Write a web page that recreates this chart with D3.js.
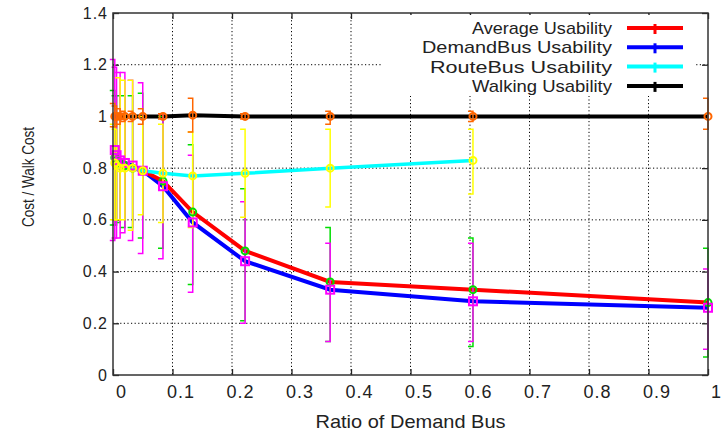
<!DOCTYPE html>
<html>
<head>
<meta charset="utf-8">
<script src="https://cdn.jsdelivr.net/npm/d3@7"></script>
<style>
body { margin: 0; background: #fff; }
text { font-family: "Liberation Sans", Arial, sans-serif; fill: #222; }
</style>
</head>
<body>
<script>
// ratio of demand bus (x positions of the measured points)
var ratios = [0.003, 0.006, 0.012, 0.02, 0.033, 0.05, 0.084, 0.134, 0.222, 0.365, 0.605, 1.0];

// mean values
var avgUsability    = [0.84, 0.83, 0.82, 0.81, 0.80, 0.79, 0.75, 0.63, 0.48, 0.36, 0.33, 0.28];
var demandUsability = [0.87, 0.85, 0.83, 0.82, 0.81, 0.79, 0.73, 0.59, 0.44, 0.33, 0.285, 0.26];
var routeUsability  = [0.82, 0.81, 0.80, 0.80, 0.80, 0.79, 0.78, 0.77, 0.78, 0.80, 0.83, null];
var walkUsability   = [1.0, 1.0, 1.0, 1.0, 1.0, 1.0, 1.0, 1.005, 1.0, 1.0, 1.0, 1.0];

// error bars (low / high)
var avgLow     = [0.58, 0.58, 0.59, 0.57, 0.57, 0.53, 0.49, 0.35, 0.21, 0.13, 0.11, 0.07];
var avgHigh    = [1.10, 1.08, 1.08, 1.08, 1.08, 1.09, 1.00, 0.89, 0.72, 0.57, 0.53, 0.49];
var demandLow  = [0.52, 0.53, 0.53, 0.55, 0.52, 0.47, 0.45, 0.32, 0.20, 0.13, 0.13, 0.10];
var demandHigh = [1.22, 1.19, 1.17, 1.17, 1.14, 1.13, 1.01, 0.85, 0.67, 0.51, 0.51, 0.41];
var routeLow   = [0.60, 0.60, 0.60, 0.60, 0.56, 0.62, 0.59, 0.57, 0.61, 0.65, 0.70, null];
var routeHigh  = [0.97, 0.95, 1.15, 1.14, 1.14, 1.00, 0.97, 0.94, 0.95, 0.95, 0.95, null];
var walkLow    = [0.96, 0.96, 0.97, 0.98, 0.98, 0.97, 0.99, 0.94, 0.99, 0.97, 0.98, 0.95];
var walkHigh   = [1.05, 1.04, 1.03, 1.02, 1.02, 1.03, 1.01, 1.07, 1.01, 1.02, 1.02, 1.07];

var seriesNames = ["Average Usability", "DemandBus Usability", "RouteBus Usability", "Walking Usability"];
var xTicks = [0, 0.1, 0.2, 0.3, 0.4, 0.5, 0.6, 0.7, 0.8, 0.9, 1];
var yTicks = [0, 0.2, 0.4, 0.6, 0.8, 1, 1.2, 1.4];

var series = [
  { name: seriesNames[0], values: avgUsability, low: avgLow, high: avgHigh, line: "#ff0000", bar: "#00dd00", mark: "circle" },
  { name: seriesNames[1], values: demandUsability, low: demandLow, high: demandHigh, line: "#0000ff", bar: "#ff00ff", mark: "square" },
  { name: seriesNames[2], values: routeUsability, low: routeLow, high: routeHigh, line: "#00ffff", bar: "#ffff00", mark: "circle" },
  { name: seriesNames[3], values: walkUsability, low: walkLow, high: walkHigh, line: "#000000", bar: "#ff6600", mark: "circle" }
];

var margin = { top: 13, right: 18, bottom: 58, left: 113 };
var width = 726 - margin.left - margin.right;
var height = 433 - margin.top - margin.bottom;

var svg = d3.select("body").append("svg")
  .attr("width", 726)
  .attr("height", 433);

var g = svg.append("g")
  .attr("transform", "translate(" + margin.left + "," + margin.top + ")");

var x = d3.scaleLinear().domain([0, 1]).range([0, width]);
var y = d3.scaleLinear().domain([0, 1.4]).range([height, 0]);

// dotted grid
g.selectAll(".vgrid")
  .data(xTicks.slice(1, -1))
  .enter().append("line")
  .attr("x1", function(d) { return x(d); })
  .attr("x2", function(d) { return x(d); })
  .attr("y1", 0).attr("y2", height)
  .attr("stroke", "#000").attr("stroke-width", 1)
  .attr("stroke-dasharray", "1.2,2.4");

g.selectAll(".hgrid")
  .data(yTicks.slice(1, -1))
  .enter().append("line")
  .attr("x1", 0).attr("x2", width)
  .attr("y1", function(d) { return y(d); })
  .attr("y2", function(d) { return y(d); })
  .attr("stroke", "#000").attr("stroke-width", 1)
  .attr("stroke-dasharray", "1.2,2.4");

// axes, ticks pointing inwards
var fmt = function(d) { return String(d); };

var xAxis = g.append("g")
  .attr("transform", "translate(0," + height + ")")
  .call(d3.axisBottom(x).tickValues(xTicks).tickSize(-6).tickPadding(10).tickFormat(fmt));
xAxis.selectAll("text").attr("dx", 8).style("font-size", "18px").style("letter-spacing", "1px");

g.append("g")
  .call(d3.axisTop(x).tickValues(xTicks).tickSize(-6).tickFormat(""));

var yAxis = g.append("g")
  .call(d3.axisLeft(y).tickValues(yTicks).tickSize(-6).tickPadding(5).tickFormat(fmt));
yAxis.selectAll("text").style("font-size", "16px").style("letter-spacing", "1px");

g.append("g")
  .attr("transform", "translate(" + width + ",0)")
  .call(d3.axisRight(y).tickValues(yTicks).tickSize(-6).tickFormat(""));

g.selectAll(".domain").remove();
g.selectAll(".tick line").attr("stroke", "#222").attr("stroke-width", 1.3);

// data lines
var line = d3.line()
  .defined(function(d) { return d.v != null; })
  .x(function(d) { return x(d.x); })
  .y(function(d) { return y(d.v); });

function points(s) {
  return ratios.map(function(r, i) {
    return { x: r, v: s.values[i], lo: s.low[i], hi: s.high[i] };
  });
}

// draw order: demand, average, route, walking
[series[1], series[0], series[2], series[3]].forEach(function(s) {
  g.append("path")
    .datum(points(s))
    .attr("d", line)
    .attr("fill", "none")
    .attr("stroke", s.line)
    .attr("stroke-width", s.line == "#00ffff" ? 3.5 : 4);
});

// error bars, caps stick out to the left
series.forEach(function(s) {
  var pts = points(s).filter(function(d) { return d.v != null; });
  var eb = g.append("g").attr("stroke", s.bar).attr("stroke-width", 1.5).attr("fill", "none");
  eb.selectAll("path")
    .data(pts)
    .enter().append("path")
    .attr("d", function(d) {
      var px = x(d.x), y1 = y(d.hi), y2 = y(d.lo);
      return "M" + (px - 5) + "," + y1 + "H" + px + "V" + y2 + "H" + (px - 5);
    });
});

// point markers
series.forEach(function(s) {
  var pts = points(s).filter(function(d) { return d.v != null; });
  var mk = g.append("g").attr("stroke", s.bar).attr("stroke-width", 2).attr("fill", "none");
  if (s.mark == "square") {
    mk.selectAll("rect").data(pts).enter().append("rect")
      .attr("x", function(d) { return x(d.x) - 4; })
      .attr("y", function(d) { return y(d.v) - 4; })
      .attr("width", 8).attr("height", 8);
  } else {
    mk.selectAll("circle").data(pts).enter().append("circle")
      .attr("cx", function(d) { return x(d.x); })
      .attr("cy", function(d) { return y(d.v); })
      .attr("r", 3.5);
  }
});

// frame
g.append("rect")
  .attr("width", width).attr("height", height)
  .attr("fill", "none").attr("stroke", "#333").attr("stroke-width", 1.5);

// legend (white box without border, inside the plot)
var legend = svg.append("g");
legend.append("rect")
  .attr("x", 383).attr("y", 15).attr("width", 312).attr("height", 81)
  .attr("fill", "#fff");

var legendWidths = [140, 190, 182, 140];
series.forEach(function(s, i) {
  var ly = 28 + i * 19.3;
  legend.append("text")
    .attr("x", 612).attr("y", ly + 6)
    .attr("text-anchor", "end")
    .attr("textLength", legendWidths[i])
    .attr("lengthAdjust", "spacingAndGlyphs")
    .style("font-size", "17px")
    .text(s.name);
  legend.append("line")
    .attr("x1", 627).attr("x2", 683).attr("y1", ly).attr("y2", ly)
    .attr("stroke", s.line).attr("stroke-width", 4);
  legend.append("line")
    .attr("x1", 655).attr("x2", 655).attr("y1", ly - 4).attr("y2", ly + 6)
    .attr("stroke", s.line).attr("stroke-width", 3);
});

// axis titles
svg.append("text")
  .attr("x", margin.left + width / 2).attr("y", 428)
  .attr("text-anchor", "middle")
  .attr("textLength", 190)
  .attr("lengthAdjust", "spacingAndGlyphs")
  .style("font-size", "19px")
  .text("Ratio of Demand Bus");

svg.append("text")
  .attr("transform", "translate(34,177) rotate(-90)")
  .attr("text-anchor", "middle")
  .attr("textLength", 100)
  .attr("lengthAdjust", "spacingAndGlyphs")
  .style("font-size", "17px")
  .text("Cost / Walk Cost");
</script>
</body>
</html>
